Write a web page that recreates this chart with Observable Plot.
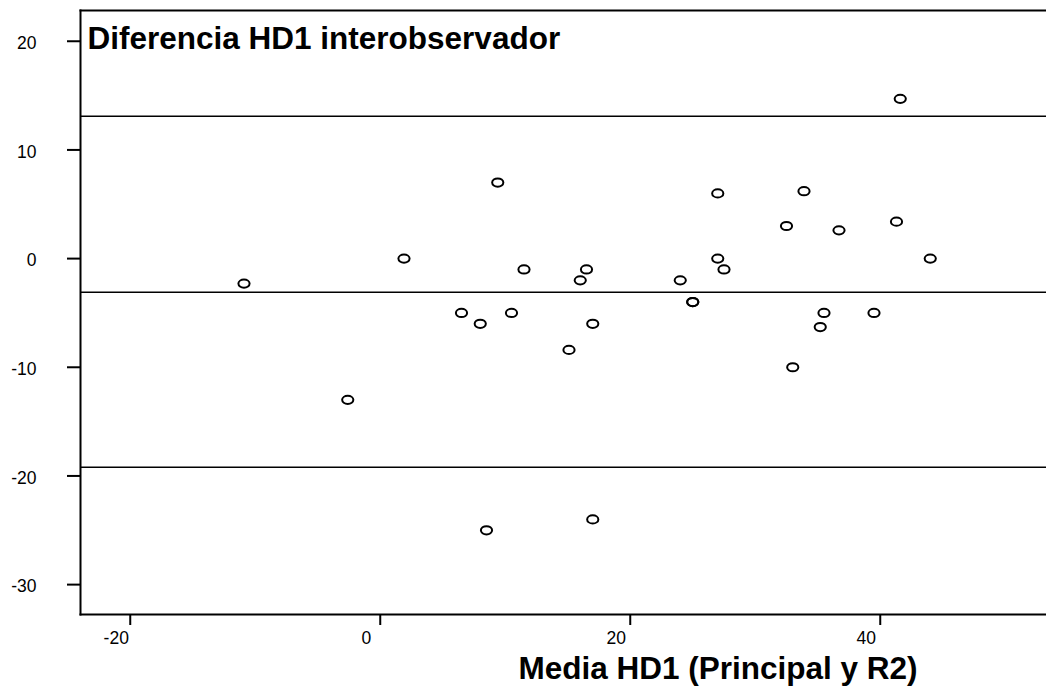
<!DOCTYPE html>
<html>
<head>
<meta charset="utf-8">
<script src="https://cdn.jsdelivr.net/npm/d3@7"></script>
<script src="https://cdn.jsdelivr.net/npm/@observablehq/plot@0.6"></script>
<style>
  html, body { margin: 0; padding: 0; background: #fff; }
  #chart { width: 1046px; height: 686px; }
</style>
</head>
<body>
<div id="chart"></div>
<script>
// Mean of the two observers (x) and their difference (y)
const mediaHD1 = [-10.9, 1.9, 9.4, 6.5, 8.0, -2.6, 11.5, 10.5, 16.5, 16.0, 17.0, 15.1, 27.0, 27.0, 27.5, 24.0, 25.0, 25.0, 41.6, 33.9, 32.5, 36.7, 41.3, 44.0, 35.5, 39.5, 35.2, 33.0, 8.5, 17.0];
const diferenciaHD1 = [-2.3, 0, 7, -5, -6, -13, -1, -5, -1, -2, -6, -8.4, 6, 0, -1, -2, -4, -4, 14.7, 6.2, 3, 2.6, 3.4, 0, -5, -5, -6.3, -10, -25, -24];
// Bland-Altman lines: upper limit, mean difference, lower limit
const refLines = [13.1, -3.1, -19.2];
const xTicks = [-20, 0, 20, 40];
const yTicks = [20, 10, 0, -10, -20, -30];
const chartTitle = "Diferencia HD1 interobservador";
const xTitle = "Media HD1 (Principal y R2)";

const points = mediaHD1.map((x, i) => ({x, y: diferenciaHD1[i]}));

const ellipse = {
  draw(context) {
    const rx = 5.6, ry = 4.1, k = 0.5523;
    context.moveTo(rx, 0);
    context.bezierCurveTo(rx, k * ry, k * rx, ry, 0, ry);
    context.bezierCurveTo(-k * rx, ry, -rx, k * ry, -rx, 0);
    context.bezierCurveTo(-rx, -k * ry, -k * rx, -ry, 0, -ry);
    context.bezierCurveTo(k * rx, -ry, rx, -k * ry, rx, 0);
    context.closePath();
  }
};

const font = "'Liberation Sans', Arial, Helvetica, sans-serif";

const chart = Plot.plot({
  width: 1046,
  height: 686,
  marginLeft: 80,
  marginRight: 0,
  marginTop: 10,
  marginBottom: 72,
  style: {fontFamily: font, fontSize: "17.5px", color: "#000", background: "#fff"},
  x: {domain: [-23.98, 53.3]},
  y: {domain: [-32.75, 22.83]},
  marks: [
    Plot.ruleY(refLines, {stroke: "#000", strokeWidth: 1.5}),
    Plot.frame({anchor: "left", stroke: "#000", strokeWidth: 2}),
    Plot.frame({anchor: "bottom", stroke: "#000", strokeWidth: 2}),
    Plot.frame({anchor: "top", stroke: "#000", strokeWidth: 2}),
    // tick marks
    Plot.axisY(yTicks, {tickSize: 13, strokeWidth: 2, tickFormat: () => "", label: null}),
    Plot.axisX(xTicks, {tickSize: 11, strokeWidth: 2, tickFormat: () => "", label: null}),
    // tick labels (positioned by the scales)
    Plot.text(yTicks, {
      y: d => d, text: d => String(d), frameAnchor: "left", textAnchor: "end",
      lineAnchor: "middle", dx: -44, dy: 2, fontSize: 17.5, fill: "#000"
    }),
    Plot.text(xTicks, {
      x: d => d, text: d => String(d), frameAnchor: "bottom", textAnchor: "middle",
      lineAnchor: "top", dx: -14, dy: 17.5, fontSize: 17.5, fill: "#000"
    }),
    Plot.dot(points, {x: "x", y: "y", symbol: ellipse, fill: "none", stroke: "#000", strokeWidth: 2}),
    Plot.text([chartTitle], {
      frameAnchor: "top-left", textAnchor: "start", lineAnchor: "top",
      dx: 7, dy: 16.5, fontSize: 31.5, fontWeight: "bold", fill: "#000"
    }),
    Plot.text([xTitle], {
      frameAnchor: "bottom", textAnchor: "middle", lineAnchor: "bottom",
      dx: 154.5, dy: 64, fontSize: 31.5, fontWeight: "bold", fill: "#000"
    })
  ]
});

document.getElementById("chart").appendChild(chart);
</script>
</body>
</html>
